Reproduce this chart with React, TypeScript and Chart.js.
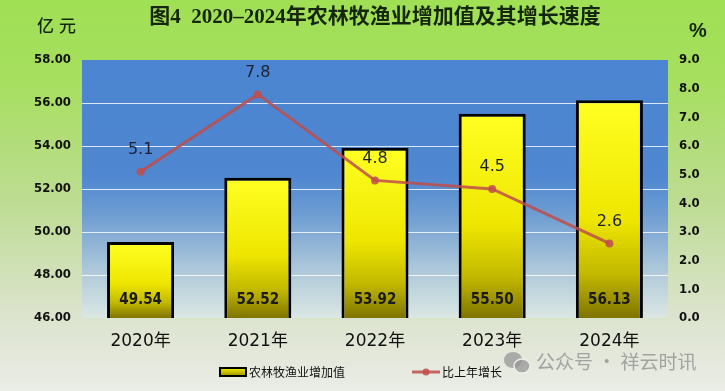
import React, { useEffect, useRef } from 'react';
import { Chart, registerables } from 'chart.js';

Chart.register(...registerables);

const categories = ['2020年', '2021年', '2022年', '2023年', '2024年'];
const valueAdded = [49.54, 52.52, 53.92, 55.5, 56.13];
const growthRate = [5.1, 7.8, 4.8, 4.5, 2.6];
const leftAxis = { min: 46, max: 58, step: 2 };
const rightAxis = { min: 0, max: 9, step: 1 };
const titleText = '图4  2020–2024年农林牧渔业增加值及其增长速度';
const leftUnit = '亿元';
const rightUnit = '%';
const legendBar = '农林牧渔业增加值';
const legendLine = '比上年增长';
const watermark = '公众号 · 祥云时讯';

const LINE_COLOR = 'rgba(190,78,76,0.85)';
const TICK_FONT = "'DejaVu Sans Condensed', 'DejaVu Sans'";

const decorPlugin = {
  id: 'decor',
  beforeDraw(chart: any) {
    const { ctx, chartArea, width, height } = chart;
    ctx.save();
    const bg = ctx.createLinearGradient(0, 0, 0, height);
    bg.addColorStop(0, '#a0e055');
    bg.addColorStop(0.2, '#a6df5e');
    bg.addColorStop(0.5, '#bcdc90');
    bg.addColorStop(0.8, '#dbe3cc');
    bg.addColorStop(1, '#eaece6');
    ctx.fillStyle = bg;
    ctx.fillRect(0, 0, width, height);
    if (chartArea) {
      const pg = ctx.createLinearGradient(0, chartArea.top, 0, chartArea.bottom);
      pg.addColorStop(0, '#4b84d0');
      pg.addColorStop(0.45, '#4f87d0');
      pg.addColorStop(0.6, '#6e9dd2');
      pg.addColorStop(0.8, '#aac6d9');
      pg.addColorStop(1, '#dbe7e3');
      ctx.fillStyle = pg;
      ctx.fillRect(chartArea.left, chartArea.top, chartArea.right - chartArea.left, chartArea.bottom - chartArea.top);
    }
    ctx.restore();
  },
  afterDatasetsDraw(chart: any) {
    const { ctx, chartArea } = chart;
    ctx.save();
    // bar value labels
    const barMeta = chart.getDatasetMeta(1);
    ctx.font = "bold 15px " + TICK_FONT;
    ctx.fillStyle = '#1a1a1a';
    ctx.textAlign = 'center';
    ctx.textBaseline = 'middle';
    barMeta.data.forEach((el: any, i: number) => {
      ctx.fillText(valueAdded[i].toFixed(2), el.x, chartArea.bottom - 18);
    });
    // line labels
    const lineMeta = chart.getDatasetMeta(0);
    ctx.font = "16px 'DejaVu Sans'";
    ctx.fillStyle = '#1c2238';
    lineMeta.data.forEach((el: any, i: number) => {
      ctx.fillText(growthRate[i].toFixed(1), el.x, el.y - 22);
    });
    ctx.restore();
  },
  afterDraw(chart: any) {
    const { ctx } = chart;
    ctx.save();
    // title
    ctx.fillStyle = '#15260e';
    ctx.textAlign = 'center';
    ctx.textBaseline = 'middle';
    ctx.font = "bold 21px 'Liberation Serif', 'Noto Sans CJK SC'";
    ctx.fillText(titleText, 375, 18);
    // units
    ctx.font = "500 17px 'Noto Sans CJK SC'";
    ctx.textAlign = 'left';
    ctx.fillText(leftUnit[0], 37, 26);
    ctx.fillText(leftUnit[1], 59, 26);
    ctx.font = "bold 20px 'Liberation Sans'";
    ctx.textAlign = 'center';
    ctx.fillText(rightUnit, 698, 31);

    // legend
    const ly = 372;
    const lg = ctx.createLinearGradient(0, ly - 4, 0, ly + 4);
    lg.addColorStop(0, '#f4f000');
    lg.addColorStop(1, '#9a9000');
    ctx.fillStyle = lg;
    ctx.fillRect(220, ly - 4, 26, 8);
    ctx.strokeStyle = '#000';
    ctx.lineWidth = 2;
    ctx.strokeRect(220, ly - 4, 26, 8);
    ctx.fillStyle = '#111';
    ctx.font = "12px 'Noto Sans CJK SC'";
    ctx.textAlign = 'left';
    ctx.textBaseline = 'middle';
    ctx.fillText(legendBar, 249, ly);
    ctx.strokeStyle = LINE_COLOR;
    ctx.lineWidth = 3;
    ctx.beginPath();
    ctx.moveTo(412, ly);
    ctx.lineTo(440, ly);
    ctx.stroke();
    ctx.fillStyle = LINE_COLOR;
    ctx.beginPath();
    ctx.arc(426, ly, 3.5, 0, Math.PI * 2);
    ctx.fill();
    ctx.fillStyle = '#111';
    ctx.fillText(legendLine, 442, ly);

    // watermark
    ctx.fillStyle = 'rgba(150,150,150,0.75)';
    ctx.beginPath();
    ctx.ellipse(513, 360, 9, 8, 0, 0, Math.PI * 2);
    ctx.fill();
    ctx.strokeStyle = 'rgba(235,238,230,1)';
    ctx.lineWidth = 1.5;
    ctx.beginPath();
    ctx.ellipse(522, 366, 8, 7, 0, 0, Math.PI * 2);
    ctx.fill();
    ctx.stroke();
    ctx.font = "19px 'Noto Sans CJK SC'";
    ctx.fillStyle = 'rgba(150,150,150,0.85)';
    ctx.textAlign = 'left';
    ctx.fillText(watermark, 536, 362);
    ctx.restore();
  },
};

export default function App() {
  const ref = useRef<HTMLCanvasElement | null>(null);
  useEffect(() => {
    document.body.style.margin = '0';
    const canvas = ref.current;
    if (!canvas) return;
    const chart = new Chart(canvas, {
      type: 'bar',
      data: {
        labels: categories,
        datasets: [
          {
            type: 'line',
            label: legendLine,
            data: growthRate,
            yAxisID: 'y1',
            borderColor: LINE_COLOR,
            backgroundColor: LINE_COLOR,
            borderWidth: 3,
            pointRadius: 4,
            pointBorderWidth: 0,
            pointBackgroundColor: LINE_COLOR,
            tension: 0,
            order: 0,
          } as any,
          {
            type: 'bar',
            label: legendBar,
            data: valueAdded,
            yAxisID: 'y',
            borderColor: '#000',
            borderWidth: 3,
            borderSkipped: false,
            categoryPercentage: 1,
            barPercentage: 0.572,
            order: 1,
            backgroundColor: (c: any) => {
              const ch = c.chart;
              const area = ch.chartArea;
              if (!area || c.type !== 'data') return '#f0f000';
              const top = ch.scales.y.getPixelForValue(c.raw);
              const g = ch.ctx.createLinearGradient(0, top, 0, area.bottom);
              g.addColorStop(0, '#ffff22');
              g.addColorStop(0.55, '#eee600');
              g.addColorStop(0.8, '#c2b800');
              g.addColorStop(1, '#7f7400');
              return g;
            },
          } as any,
        ],
      },
      options: {
        responsive: false,
        animation: false,
        layout: { padding: { top: 60, left: 0, right: 0, bottom: 0 } },
        plugins: {
          legend: { display: false },
          tooltip: { enabled: false },
          title: { display: false },
        },
        scales: {
          x: {
            offset: true,
            grid: { display: false, drawTicks: false },
            border: { display: false },
            ticks: {
              color: '#111',
              padding: 13,
              font: { family: "'DejaVu Sans', 'Noto Sans CJK SC'", size: 17 },
            },
            afterFit: (s: any) => {
              s.height = 73;
            },
          },
          y: {
            position: 'left',
            min: leftAxis.min,
            max: leftAxis.max,
            border: { display: false },
            grid: {
              drawTicks: false,
              lineWidth: 1,
              color: (c: any) =>
                c.tick && (c.tick.value === leftAxis.min || c.tick.value === leftAxis.max)
                  ? 'rgba(0,0,0,0)'
                  : 'rgba(255,255,255,0.8)',
            },
            ticks: {
              stepSize: leftAxis.step,
              padding: 11,
              color: '#111',
              font: { family: TICK_FONT, size: 13, weight: 'bold' },
              callback: (v: any) => Number(v).toFixed(2),
            },
            afterFit: (s: any) => {
              s.width = 82;
            },
          },
          y1: {
            position: 'right',
            min: rightAxis.min,
            max: rightAxis.max,
            border: { display: false },
            grid: { display: false, drawTicks: false },
            ticks: {
              stepSize: rightAxis.step,
              padding: 11,
              color: '#111',
              font: { family: TICK_FONT, size: 13, weight: 'bold' },
              callback: (v: any) => Number(v).toFixed(1),
            },
            afterFit: (s: any) => {
              s.width = 57;
            },
          },
        },
      } as any,
      plugins: [decorPlugin],
    });
    return () => chart.destroy();
  }, []);
  return (
    <div style={{ width: 725, height: 391 }}>
      <canvas ref={ref} width={725} height={391} style={{ display: 'block' }} />
    </div>
  );
}
